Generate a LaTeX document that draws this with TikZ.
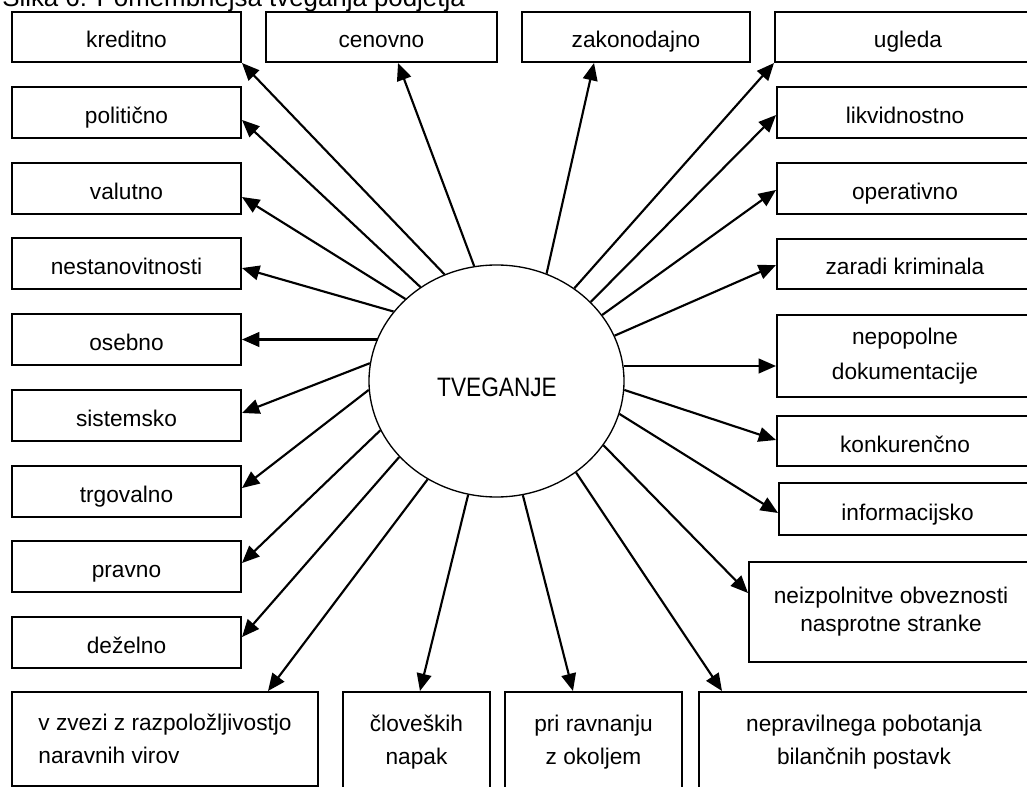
\documentclass[tikz,border=0pt]{standalone}
\usepackage{fontspec}
\setmainfont{Liberation Sans}
\usetikzlibrary{shapes.geometric,arrows.meta,calc}
% box: name, centre x, centre y, width, height, text (all in px units)
\newcommand\riskbox[6]{%
  \node[box, onebox, minimum width=#4*0.75pt, minimum height=#5*0.75pt] (#1) at (#2,#3) {#6};}
\begin{document}
\begin{tikzpicture}[x=0.75pt,y=-0.75pt,
  every node/.style={font=\fontsize{17}{24.75}\selectfont},
  box/.style={draw, line width=1.5pt, rectangle, inner sep=0pt, align=center},
  onebox/.style={text height=16.5pt, text depth=0pt},
  arr/.style={line width=1.6pt, -{Triangle[length=13pt,width=11pt]}},
]
\useasboundingbox (0,0) rectangle (1027,787);
\clip (0,0) rectangle (1027,787);

% caption
\node[anchor=base west, inner sep=0pt, font=\fontsize{19.4}{24}\selectfont]
  (cap) at (2,7) {Slika 6: Pomembnejša tveganja podjetja};

% central ellipse
\node[draw, ellipse, line width=1pt, inner sep=0pt,
      minimum width=255*0.75pt, minimum height=232*0.75pt] (c) at (496.5,381) {};
\node[font=\fontsize{20}{24}\selectfont] (tv) at (497,387.5)
  {\scalebox{0.85}[1]{TVEGANJE}};

% top row
\riskbox{kred}{126.5}{37}{229}{50}{kreditno}
\riskbox{cen}{381.5}{37}{231}{50}{cenovno}
\riskbox{zak}{636}{37}{228}{50}{zakonodajno}
\riskbox{ugl}{908}{37}{266}{50}{ugleda}

% left column
\riskbox{polit}{126.5}{112.5}{229}{51}{politično}
\riskbox{val}{126.5}{188.5}{229}{51}{valutno}
\riskbox{nest}{126.5}{263.5}{229}{51}{nestanovitnosti}
\riskbox{oseb}{126.5}{339.5}{229}{51}{osebno}
\riskbox{sist}{126.5}{415.5}{229}{51}{sistemsko}
\riskbox{trg}{126.5}{491}{229}{51}{trgovalno}
\riskbox{prav}{126.5}{566.5}{229}{51}{pravno}
\riskbox{dez}{126.5}{642.5}{229}{51}{deželno}

% right column
\riskbox{likv}{905}{112.5}{256}{51}{likvidnostno}
\riskbox{oper}{905}{188.5}{256}{51}{operativno}
\riskbox{zar}{905}{264}{256}{50}{zaradi kriminala}
\node[box, minimum width=256*0.75pt, minimum height=82*0.75pt,
      font=\fontsize{17}{26}\selectfont] (nepop) at (905,356)
      {nepopolne\\dokumentacije};
\riskbox{konk}{905}{441}{256}{50}{konkurenčno}
\riskbox{inf}{907.5}{509}{257}{52}{informacijsko}
\node[box, minimum width=284*0.75pt, minimum height=100*0.75pt,
      font=\fontsize{17}{21}\selectfont] (neizp) at (891,612)
      {neizpolnitve obveznosti\\nasprotne stranke};

% bottom row (boxes run past the lower edge)
\node[box, minimum width=306*0.75pt, minimum height=94*0.75pt, align=left]
      (vz) at (165,739) {v zvezi z razpoložljivostjo\\naravnih virov};
\node[box, minimum width=147*0.75pt, minimum height=101*0.75pt]
      (clov) at (416.5,742.5) {človeških\\napak};
\node[box, minimum width=177*0.75pt, minimum height=101*0.75pt]
      (pri) at (593.5,742.5) {pri ravnanju\\z okoljem};
\node[box, minimum width=330*0.75pt, minimum height=101*0.75pt]
      (nepr) at (864,742.5) {nepravilnega pobotanja\\bilančnih postavk};

% arrow targets on the boxes
\coordinate (oseIn) at (oseb.east);
\coordinate (nepIn) at ([yshift=-7.5pt]nepop.west);

% connectors, left side
\draw[arr] (c.116.4) -- (kred.south east);
\draw[arr] (c.129.7) -- ([yshift=-5.6pt]polit.east);
\draw[arr] (c.138.5) -- ([yshift=-6.4pt]val.east);
\draw[arr] (c.146.7) -- ([yshift=-3.4pt]nest.east);
\draw[arr] (c.160.8 |- oseIn) -- (oseIn);
\draw[arr] (c.172.8) -- ([yshift=1.9pt]sist.east);
\draw[arr] (c.184) -- ([yshift=2.2pt]trg.east);
\draw[arr] (c.203.2) -- ([yshift=2.6pt]prav.east);
\draw[arr] (c.218) -- ([yshift=4.1pt]dez.east);

% connectors, bottom
\draw[arr] (c.235) -- ([xshift=77.25pt]vz.north);
\draw[arr] (c.256.9) -- ([xshift=2.6pt]clov.north);
\draw[arr] (c.283.1) -- ([xshift=-15.4pt]pri.north);
\draw[arr] (c.311.5) -- ([xshift=18pt]nepr.north west);

% connectors, right side
\draw[arr] (c.329) -- ([yshift=14.25pt]neizp.west);
\draw[arr] (c.345.7) -- ([yshift=-3pt]inf.west);
\draw[arr] (c.356) -- ([yshift=0.75pt]konk.west);
\draw[arr] (c.6.8 |- nepIn) -- (nepIn);
\draw[arr] (c.21.2) -- ([yshift=-0.75pt]zar.west);
\draw[arr] (c.32.6) -- ([yshift=-1.1pt]oper.west);
\draw[arr] (c.40.3) -- ([yshift=-1.9pt]likv.west);
\draw[arr] (c.50.3) -- (ugl.south west);

% connectors, top
\draw[arr] (c.65.8) -- ([xshift=54.75pt]zak.south west);
\draw[arr] (c.101.9) -- ([xshift=12.4pt]cen.south);
\end{tikzpicture}
\end{document}
